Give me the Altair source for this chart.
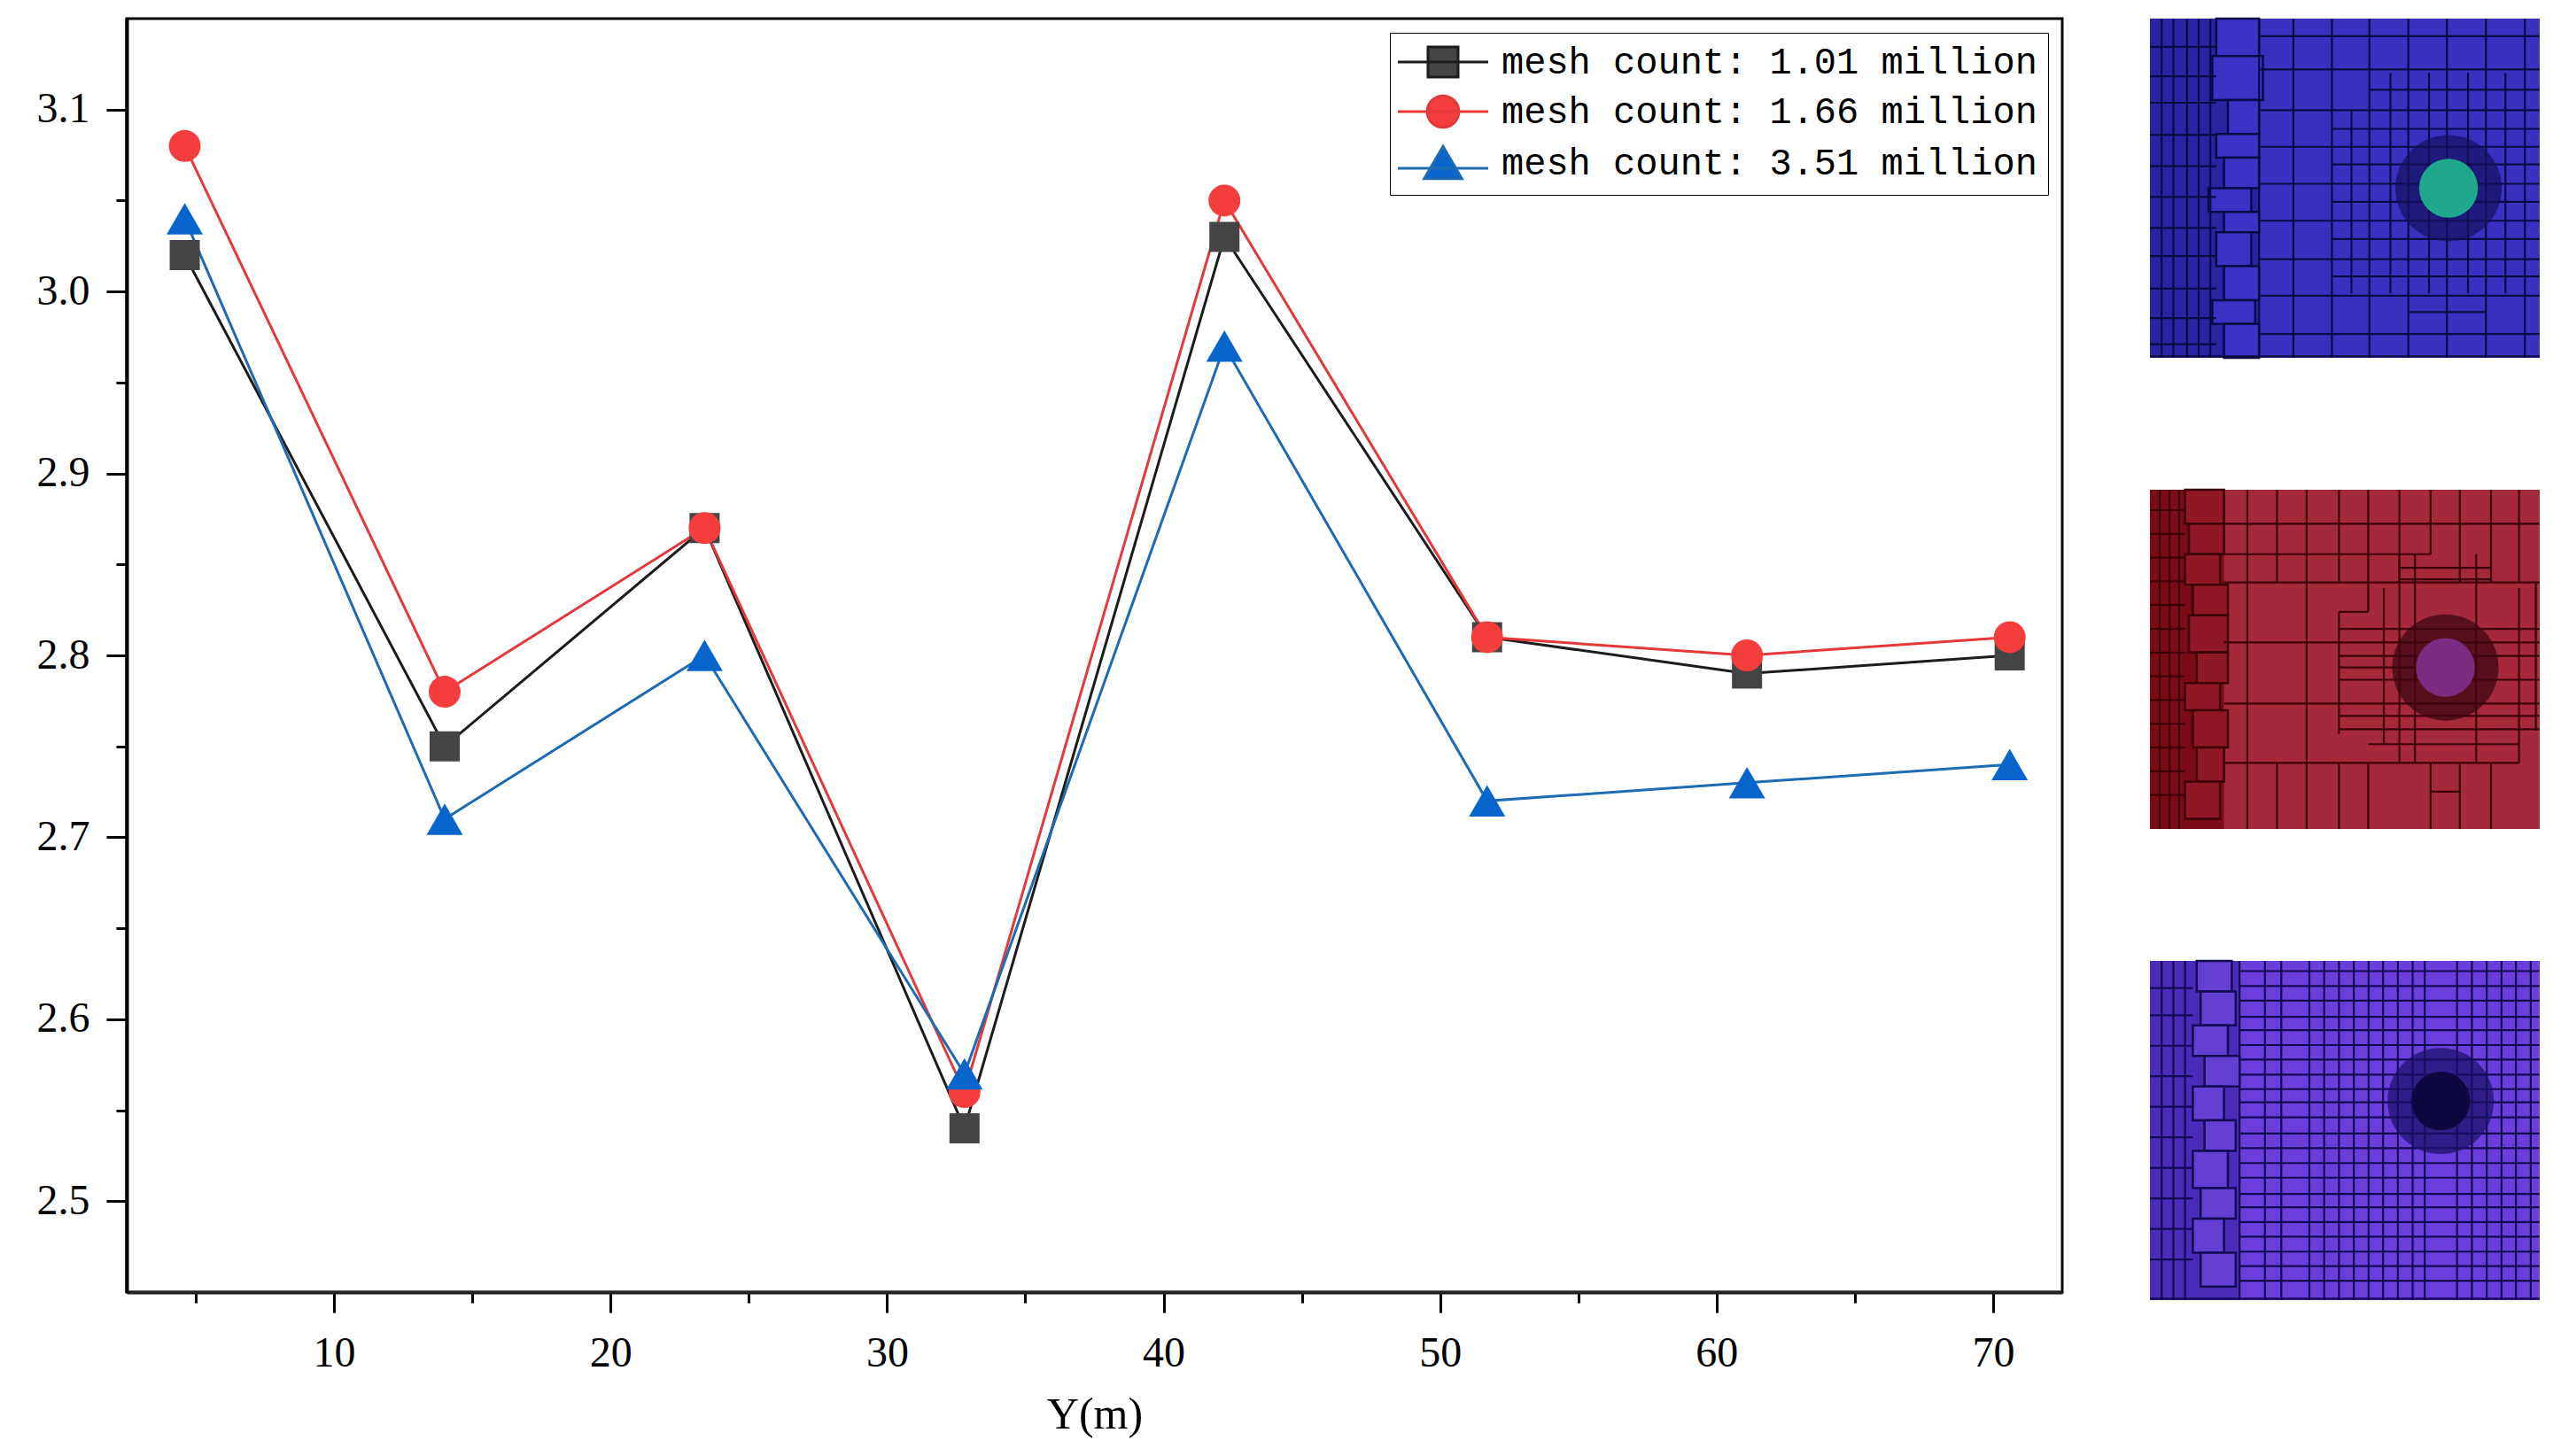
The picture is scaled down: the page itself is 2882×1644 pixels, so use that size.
import altair as alt
import pandas as pd

# distance along Y (m) and the value of each mesh series
y_m = [4.6, 14.0, 23.4, 32.8, 42.2, 51.7, 61.1, 70.6]
mesh_101 = [3.02, 2.75, 2.87, 2.54, 3.03, 2.81, 2.79, 2.80]
mesh_166 = [3.08, 2.78, 2.87, 2.56, 3.05, 2.81, 2.80, 2.81]
mesh_351 = [3.04, 2.71, 2.80, 2.57, 2.97, 2.72, 2.73, 2.74]
series = ["mesh count: 1.01 million", "mesh count: 1.66 million", "mesh count: 3.51 million"]

x_ticks = [5, 10, 15, 20, 25, 30, 35, 40, 45, 50, 55, 60, 65, 70]
y_ticks = [2.5, 2.55, 2.6, 2.65, 2.7, 2.75, 2.8, 2.85, 2.9, 2.95, 3.0, 3.05, 3.1]

line_colors = ["#1c1c1c", "#e3393b", "#1d6bb2"]
marker_colors = ["#444444", "#f43d3d", "#0865cc"]
marker_shapes = ["square", "circle", "triangle-up"]
marker_sizes = [1156, 1296, 1681]
legend_paths = [
    "M-3,0H3M-1,-1H1V1H-1Z",
    "M-3,0H3M1.05,0A1.05,1.05,0,1,1,-1.05,0A1.05,1.05,0,1,1,1.05,0Z",
    "M-3,0.35H3M0,-1.1L1.25,1.05H-1.25Z",
]

# mesh snapshots on the right (panel units 0-100, y from the top)
panel_span = [0, 100]

p1_colors = dict(fill="#3a30c0", strip="#2a23a2", cell="#3b31c4", line="#0b0a45", ring="#14105e", ball="#1fa88c")
p1_strip = 28
p1_cells = [(17, 28, 0, 11), (16, 29, 11, 24), (20, 28, 24, 34), (17, 28, 34, 41), (19, 28, 41, 50),
            (15, 26, 50, 57), (19, 28, 57, 63), (17, 26, 63, 73), (19, 28, 73, 83), (16, 27, 83, 90),
            (19, 28, 90, 100)]
p1_vlines = [(3, 0, 100), (6, 0, 100), (9.5, 0, 100), (12.5, 0, 100), (15.5, 0, 100),
             (28, 0, 100), (36.8, 0, 100), (46.7, 0, 100), (56.3, 0, 100), (66.3, 0, 100),
             (76.2, 0, 100), (86.2, 0, 100), (96.2, 0, 100),
             (51.7, 27, 81), (61.7, 16, 81), (71.6, 16, 81), (81.6, 16, 81), (91.2, 16, 81)]
p1_hlines = [(8.3, 0, 17), (17, 0, 17), (24.8, 0, 17), (34.3, 0, 17), (43.5, 0, 17), (52.6, 0, 17),
             (61.7, 0, 17), (70, 0, 17), (79.6, 0, 17), (88.3, 0, 17), (96, 0, 17),
             (5.2, 28, 100), (15, 28, 100), (27, 28, 100), (37.8, 28, 100), (48.7, 28, 100),
             (59.6, 28, 100), (70.9, 28, 100), (81.7, 28, 100), (93, 28, 100), (99.6, 0, 100),
             (21, 56.3, 100), (32.5, 46.7, 100), (43, 46.7, 100), (54, 46.7, 100), (65, 46.7, 100),
             (76, 46.7, 100), (86.5, 66.3, 86.2)]
p1_sphere = (76.6, 50)

p2_colors = dict(fill="#a3293b", strip="#7a0c18", cell="#8e1826", line="#3d0008", ring="#3a0612", ball="#7a2d80")
p2_strip = 19
p2_cells = [(9, 19, 0, 10), (10, 19, 10, 19), (9, 18, 19, 28), (11, 20, 28, 37), (10, 20, 37, 48),
            (12, 20, 48, 57), (9, 18, 57, 65), (11, 20, 65, 76), (12, 19, 76, 86), (9, 18, 86, 97)]
p2_vlines = [(2.5, 0, 100), (5, 0, 100), (7.5, 0, 100),
             (25, 0, 100), (32.6, 0, 27.3), (32.6, 80.5, 100), (40.2, 0, 100), (48.5, 0, 27.3),
             (48.5, 36, 72), (48.5, 80.5, 100), (56, 0, 36), (56, 80.5, 100), (60, 29, 75),
             (64, 0, 27.3), (64, 19, 80.5), (68, 19, 80.5), (72, 0, 19), (72, 80.5, 100),
             (79.5, 0, 27.3), (79.5, 80.5, 100), (83.7, 19, 80.5), (87.5, 0, 27.3), (87.5, 80.5, 100),
             (94.7, 0, 27.3), (94.7, 29, 80.5), (99, 27.3, 71)]
p2_hlines = [(6, 0, 9), (13, 0, 9), (20, 0, 9), (27, 0, 9), (34, 0, 9), (41, 0, 9), (48, 0, 9),
             (55, 0, 9), (62, 0, 9), (69, 0, 9), (76, 0, 9), (83, 0, 9), (90, 0, 9),
             (10, 19, 100), (19, 19, 72), (23, 64, 87.5), (26.4, 64, 87.5), (27.3, 19, 100),
             (36, 48.5, 56), (41, 48.5, 100), (45, 19, 100), (49, 48.5, 100), (52.4, 48.5, 68),
             (56, 48.5, 100), (63, 19, 100), (66.7, 48.5, 100), (70.6, 48.5, 100), (75, 56, 94.7),
             (80.5, 19, 94.7), (89, 72, 79.5)]
p2_sphere = (75.8, 52.4)

p3_colors = dict(fill="#6a3edb", strip="#4a2cb8", cell="#6340d2", line="#120a55", ring="#1a1068", ball="#0e0840")
p3_strip = 23
p3_cells = [(12, 21, 0, 9), (13, 22, 9, 19), (11, 20, 19, 28), (14, 23, 28, 37), (11, 19, 37, 47),
            (14, 22, 47, 56), (11, 20, 56, 67), (13, 22, 67, 76), (11, 19, 76, 86), (13, 22, 86, 96)]
p3_vlines = [(3, 0, 100), (6, 0, 100), (9, 0, 100),
             (23, 0, 100), (29.5, 0, 100), (33.7, 0, 100), (40.9, 0, 100), (44.7, 0, 100),
             (48.5, 0, 100), (52.3, 0, 100), (56.1, 0, 100), (59.8, 0, 100), (63.6, 0, 100),
             (67.4, 0, 100), (70.5, 0, 100), (78.8, 0, 100), (82.6, 0, 100), (86.4, 0, 100),
             (90.2, 0, 100), (93.9, 0, 100), (97.7, 0, 100)]
p3_hlines = [(8, 0, 11), (16, 0, 11), (25, 0, 11), (34, 0, 11), (43, 0, 11), (52, 0, 11),
             (61, 0, 11), (70, 0, 11), (79, 0, 11), (88, 0, 11),
             (3, 23, 100), (7.4, 23, 100), (11.7, 23, 100), (16.5, 23, 100), (20.4, 23, 100),
             (24.8, 23, 100), (29.1, 23, 100), (33.5, 23, 100), (37.8, 23, 100), (41.7, 23, 100),
             (46.1, 23, 100), (50.9, 23, 100), (55.2, 23, 100), (59.6, 23, 100), (63.9, 23, 100),
             (68.7, 23, 100), (72.6, 23, 100), (77, 23, 100), (81.3, 23, 100), (85.7, 23, 100),
             (90, 23, 100), (94.3, 23, 100), (99.6, 0, 100)]
p3_sphere = (74.6, 41.3)


rows = []
for name, vals in zip(series, [mesh_101, mesh_166, mesh_351]):
    for x, v in zip(y_m, vals):
        rows.append({"Y": x, "value": v, "series": name})
df = pd.DataFrame(rows)

x_enc = alt.X(
    "Y:Q",
    scale=alt.Scale(domain=[2.5, 72.5], nice=False),
    axis=alt.Axis(
        values=x_ticks, title="Y(m)", grid=False,
        labelExpr="datum.value % 10 === 0 ? datum.label : ''",
        tickSize={"condition": {"test": "datum.value % 10 === 0", "value": 23}, "value": 12},
        tickWidth=3, tickColor="black", domainColor="#222222", domainWidth=4,
        labelFont="Liberation Serif", labelFontSize=48, labelColor="black", labelPadding=22,
        labelFlush=False, labelOverlap=False,
        titleFont="Liberation Serif", titleFontSize=50, titleFontWeight="normal",
        titleColor="black", titlePadding=20,
    ),
)
y_enc = alt.Y(
    "value:Q",
    scale=alt.Scale(domain=[2.45, 3.15], nice=False, zero=False),
    axis=alt.Axis(
        values=y_ticks, title=None, grid=False, format=".1f",
        labelExpr="abs(datum.value * 10 - round(datum.value * 10)) < 0.001 ? datum.label : ''",
        tickSize={"condition": {"test": "abs(datum.value * 10 - round(datum.value * 10)) < 0.001", "value": 23}, "value": 12},
        tickWidth=3, tickColor="black", domainColor="black", domainWidth=4,
        labelFont="Liberation Serif", labelFontSize=48, labelColor="black", labelPadding=19,
        labelFlush=False, labelOverlap=False, minExtent=133, maxExtent=133,
    ),
)

layers = []
for name, c in zip(series, line_colors):
    layers.append(
        alt.Chart(df).transform_filter(alt.datum.series == name)
        .mark_line(color=c, strokeWidth=3)
        .encode(x=x_enc, y=y_enc)
    )
for name, c, s, sz in zip(series, marker_colors, marker_shapes, marker_sizes):
    layers.append(
        alt.Chart(df).transform_filter(alt.datum.series == name)
        .mark_point(filled=True, shape=s, size=sz, color=c, opacity=1)
        .encode(x=x_enc, y=y_enc)
    )

leg = alt.Legend(
    title=None, orient="none", legendX=1426, legendY=16,
    symbolSize=1156, symbolStrokeWidth=3, symbolOpacity=1, symbolOffset=27,
    labelOffset=45, padding=12, rowPadding=9, labelLimit=900,
    labelFont="Liberation Mono", labelFontSize=42, labelColor="black",
    strokeColor="black", fillColor="white",
)
layers.append(
    alt.Chart(df).mark_point(opacity=0).encode(
        x=x_enc, y=y_enc,
        fill=alt.Fill("series:N", scale=alt.Scale(domain=series, range=marker_colors), legend=leg),
        stroke=alt.Stroke("series:N", scale=alt.Scale(domain=series, range=line_colors), legend=leg),
        shape=alt.Shape("series:N", scale=alt.Scale(domain=series, range=legend_paths), legend=leg),
    )
)

main = alt.layer(*layers).properties(
    width=2185, height=1438,
    view=alt.ViewBackground(stroke="black", strokeWidth=3),
)


def mesh_panel(colors, strip_w, cells, vlines, hlines, sphere):
    sx = alt.Scale(domain=panel_span, nice=False)
    sy = alt.Scale(domain=panel_span, nice=False, reverse=True)
    box = pd.DataFrame([{"a": panel_span[0], "b": panel_span[1], "s": strip_w}])
    cell_df = pd.DataFrame(cells, columns=["x1", "x2", "y1", "y2"])
    v_df = pd.DataFrame(vlines, columns=["pos", "a", "b"])
    h_df = pd.DataFrame(hlines, columns=["pos", "a", "b"])
    ball_df = pd.DataFrame([{"cx": sphere[0], "cy": sphere[1]}])

    bg = alt.Chart(box).mark_rect(color=colors["fill"]).encode(
        x=alt.X("a:Q", scale=sx, axis=None), x2="b:Q",
        y=alt.Y("a:Q", scale=sy, axis=None), y2="b:Q")
    strip = alt.Chart(box).mark_rect(color=colors["strip"]).encode(
        x=alt.X("a:Q", scale=sx, axis=None), x2="s:Q",
        y=alt.Y("a:Q", scale=sy, axis=None), y2="b:Q")
    cell = alt.Chart(cell_df).mark_rect(color=colors["cell"], stroke=colors["line"], strokeWidth=2.5).encode(
        x=alt.X("x1:Q", scale=sx, axis=None), x2="x2:Q",
        y=alt.Y("y1:Q", scale=sy, axis=None), y2="y2:Q")
    vl = alt.Chart(v_df).mark_rule(color=colors["line"], strokeWidth=2.2).encode(
        x=alt.X("pos:Q", scale=sx, axis=None),
        y=alt.Y("a:Q", scale=sy, axis=None), y2="b:Q")
    hl = alt.Chart(h_df).mark_rule(color=colors["line"], strokeWidth=2.2).encode(
        y=alt.Y("pos:Q", scale=sy, axis=None),
        x=alt.X("a:Q", scale=sx, axis=None), x2="b:Q")
    ring = alt.Chart(ball_df).mark_circle(size=14400, color=colors["ring"], opacity=0.72).encode(
        x=alt.X("cx:Q", scale=sx, axis=None), y=alt.Y("cy:Q", scale=sy, axis=None))
    ball = alt.Chart(ball_df).mark_circle(size=4400, color=colors["ball"], opacity=1).encode(
        x=alt.X("cx:Q", scale=sx, axis=None), y=alt.Y("cy:Q", scale=sy, axis=None))
    return alt.layer(bg, strip, cell, vl, hl, ring, ball).properties(width=440, height=383)


panels = alt.vconcat(
    mesh_panel(p1_colors, p1_strip, p1_cells, p1_vlines, p1_hlines, p1_sphere),
    mesh_panel(p2_colors, p2_strip, p2_cells, p2_vlines, p2_hlines, p2_sphere),
    mesh_panel(p3_colors, p3_strip, p3_cells, p3_vlines, p3_hlines, p3_sphere),
    spacing=145,
)

chart = alt.hconcat(main, panels, spacing=95).properties(
    padding={"left": 0, "top": 11, "right": 0, "bottom": 0},
    background="white",
).configure_view(strokeWidth=0)

chart.save("out.html", embed_options={"renderer": "svg", "actions": False})
